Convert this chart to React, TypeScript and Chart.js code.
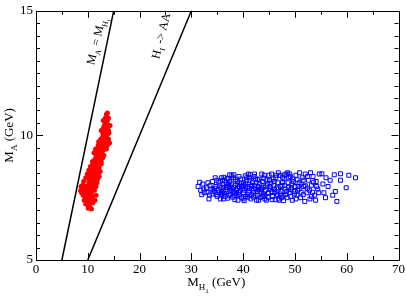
import React, { useEffect, useRef } from "react";
import { Chart, registerables } from "chart.js";
Chart.register(...registerables);

const SERIF = '"Liberation Serif", "Times New Roman", serif';

const xTicks = [0, 10, 20, 30, 40, 50, 60, 70];
const yTicks = [5, 10, 15];
const xMinorStep = 5;
const yMinorStep = 0.5;

// line M_A = M_H1
const lineEqual = [[5, 5], [15, 15]];
// line H1 -> AA : M_H1 = 2 M_A
const lineDecay = [[10, 5], [30, 15]];

// label anchors (data coords)
const labelEqualAt = [11.5, 13.8];
const labelDecayAt = [24, 14.0];

const redPoints = [
  [13.6, 10.85], [13.4, 10.7], [13.8, 10.6], [13.3, 10.55], [13.7, 10.45], [13.5, 10.5], [13.9, 10.35], [13.2, 10.4],
  [13.0, 10.3], [13.6, 10.25], [14.0, 10.2], [13.3, 10.15], [12.9, 10.1], [13.8, 10.05], [13.5, 10.0], [14.1, 10.1],
  [13.2, 9.95], [12.8, 9.9], [13.7, 9.9], [14.0, 9.85],
  [12.6, 9.8], [13.1, 9.75], [13.5, 9.7], [12.4, 9.65], [12.9, 9.6], [13.3, 9.55], [13.8, 9.6], [12.2, 9.5],
  [12.7, 9.45], [13.6, 9.45], [13.0, 9.4],
  [11.8, 9.35], [12.3, 9.3], [12.7, 9.25], [11.6, 9.2], [12.0, 9.15], [12.5, 9.1], [12.9, 9.1], [11.4, 9.05],
  [11.9, 9.0], [12.3, 8.95], [11.7, 8.9], [12.6, 8.85],
  [11.0, 8.85], [11.3, 8.8], [11.8, 8.75], [12.2, 8.7], [10.9, 8.7], [11.5, 8.65], [11.2, 8.6], [11.9, 8.6],
  [10.8, 8.55], [11.4, 8.5], [12.4, 8.55], [11.7, 8.5], [10.6, 8.45], [11.1, 8.45],
  [10.5, 8.4], [10.9, 8.38], [11.3, 8.35], [11.7, 8.3], [10.3, 8.3], [10.7, 8.25], [11.1, 8.22], [11.5, 8.2],
  [10.2, 8.15], [10.6, 8.12], [11.0, 8.1], [11.4, 8.08], [10.4, 8.05], [10.8, 8.0], [11.2, 8.02], [11.9, 8.25],
  [10.1, 8.0], [12.0, 8.45],
  [9.4, 7.95], [9.8, 7.95], [10.2, 7.9], [10.6, 7.88], [11.0, 7.92], [9.6, 7.85], [10.0, 7.8], [10.4, 7.78],
  [10.8, 7.75], [11.3, 7.8], [9.2, 7.75], [9.5, 7.7], [9.9, 7.68], [10.3, 7.65], [10.7, 7.6], [9.7, 7.6],
  [10.1, 7.55], [10.5, 7.5], [9.4, 7.55], [10.9, 7.55],
  [9.8, 7.45], [10.2, 7.42], [10.6, 7.38], [9.9, 7.32], [10.3, 7.28], [10.0, 7.2], [10.4, 7.15], [10.1, 7.08],
  [8.6, 7.78], [8.8, 7.7], [8.9, 7.85],
  [9.0, 8.0], [9.2, 8.15], [9.6, 8.3], [9.9, 8.45], [11.6, 7.95], [11.8, 8.1], [12.2, 8.35], [10.2, 8.6],
  [10.5, 8.75], [12.6, 8.95], [11.2, 9.3], [11.5, 9.45], [12.0, 9.6], [13.1, 9.2], [12.5, 9.85], [12.6, 10.2],
  [14.2, 9.7], [14.3, 10.4], [13.0, 10.6], [14.0, 10.7], [11.6, 7.6], [11.4, 7.4], [9.3, 7.4], [9.6, 7.25],
  [10.7, 7.05], [9.1, 7.6], [8.7, 7.95], [11.0, 7.3], [10.9, 8.95], [11.5, 8.95], [12.1, 9.75], [13.8, 10.9],
  [12.9, 9.95],
];

const bluePoints = [
  [31.3, 7.95], [31.8, 7.8], [32.2, 8.05], [32.5, 7.7], [32.9, 7.9], [33.2, 8.1], [33.5, 7.6], [33.8, 7.85],
  [34.1, 8.15], [34.4, 7.75], [34.7, 7.95], [35.0, 7.55], [32.0, 7.62], [33.0, 7.72], [34.0, 7.65], [34.9, 8.2],
  [35.2, 7.8], [35.5, 8.0], [35.8, 7.7], [36.0, 8.2], [36.2, 7.9], [36.5, 7.55], [36.7, 8.1], [36.9, 7.75],
  [37.1, 8.25], [37.3, 7.95], [37.5, 7.65], [37.7, 8.05], [37.9, 7.85], [38.1, 8.3], [38.3, 7.6], [38.5, 8.0],
  [38.7, 7.8], [38.9, 8.15], [39.1, 7.7], [39.3, 7.95], [39.5, 8.25], [39.7, 7.5], [39.9, 7.88], [35.6, 7.45],
  [36.3, 8.32], [37.0, 7.48], [37.8, 8.38], [38.4, 7.42], [39.2, 8.35], [35.9, 7.62], [36.8, 7.92], [37.6, 7.78],
  [38.6, 7.68], [39.6, 8.08], [36.1, 8.05], [38.0, 7.52],
  [40.1, 8.1], [40.3, 7.8], [40.5, 7.55], [40.7, 8.3], [40.9, 7.95], [41.1, 7.7], [41.3, 8.2], [41.5, 7.45],
  [41.7, 8.0], [41.9, 7.85], [42.1, 8.35], [42.3, 7.6], [42.5, 8.1], [42.7, 7.75], [42.9, 7.95], [43.1, 8.25],
  [43.3, 7.5], [43.5, 7.9], [43.7, 8.15], [43.9, 7.65], [44.1, 8.4], [44.3, 7.8], [44.5, 7.4], [44.7, 8.05],
  [44.9, 7.7], [40.2, 7.38], [41.4, 8.42], [42.6, 7.4], [43.6, 8.45], [44.2, 7.58], [40.8, 7.62], [42.0, 7.52],
  [43.0, 7.82], [44.6, 8.22], [41.8, 8.12], [40.4, 8.38],
  [45.1, 8.2], [45.3, 7.85], [45.5, 8.45], [45.7, 7.55], [45.9, 8.0], [46.1, 7.7], [46.3, 8.3], [46.5, 7.9],
  [46.7, 8.1], [46.9, 7.45], [47.1, 8.4], [47.3, 7.75], [47.5, 8.0], [47.7, 7.6], [47.9, 8.25], [48.1, 7.85],
  [48.3, 8.45], [48.5, 7.5], [48.7, 8.1], [48.9, 7.7], [49.1, 8.35], [49.3, 7.9], [49.5, 7.4], [49.7, 8.15],
  [49.9, 7.65], [45.6, 7.42], [46.8, 8.5], [47.8, 7.38], [48.6, 8.5], [46.4, 7.58],
  [50.2, 8.4], [50.5, 7.8], [50.8, 8.1], [51.1, 7.5], [51.4, 8.3], [51.7, 7.95], [52.0, 8.45], [52.3, 7.7],
  [52.6, 8.2], [52.9, 7.45], [53.2, 8.0], [53.5, 8.35], [53.8, 7.6], [54.1, 8.15], [54.4, 7.85], [54.7, 8.45],
  [50.9, 8.5], [51.9, 7.35], [53.0, 8.5], [54.0, 7.4],
  [55.2, 8.46], [55.6, 7.7], [56.0, 8.3], [56.4, 7.95], [56.8, 8.2], [57.3, 7.6], [57.6, 8.42], [58.1, 7.35],
  [58.8, 8.2], [58.8, 8.46], [59.9, 7.9], [60.4, 8.4], [61.7, 8.3], [55.9, 7.5], [57.8, 7.75], [55.4, 8.05],
  [34.5, 7.88], [35.4, 7.72], [36.6, 7.82], [37.4, 8.15], [38.2, 7.92], [38.8, 7.58], [39.4, 7.78], [40.0, 7.98],
  [40.6, 8.18], [41.2, 7.88], [41.6, 7.62], [42.2, 7.98], [42.8, 8.22], [43.4, 7.72], [44.0, 7.92], [44.8, 7.52],
  [45.4, 8.08], [46.0, 7.82], [46.6, 7.62], [47.2, 7.95], [47.6, 8.32], [48.2, 7.62], [48.8, 7.92], [49.4, 8.05],
  [50.0, 7.75], [50.6, 7.95], [51.6, 7.62], [52.4, 7.88], [53.4, 7.72], [36.4, 7.68], [37.2, 8.02], [39.0, 8.05],
  [40.9, 7.52], [42.4, 7.85], [43.8, 7.55], [45.8, 8.25], [47.4, 7.5], [49.2, 7.55], [50.4, 8.22], [51.2, 8.05],
  [33.6, 7.98], [34.2, 7.82], [34.8, 7.62], [35.3, 8.12], [35.7, 7.9], [36.0, 7.68], [36.4, 8.18], [36.9, 8.28],
  [37.3, 7.58], [37.7, 7.9], [38.1, 7.72], [38.5, 8.22], [38.9, 7.88], [39.3, 7.62], [39.7, 7.95], [40.1, 7.7],
  [40.5, 8.05], [40.8, 7.88], [41.2, 8.3], [41.6, 7.95], [42.0, 7.72], [42.4, 8.25], [42.8, 7.6], [43.2, 8.05],
  [43.6, 7.82], [44.0, 8.28], [44.4, 7.98], [44.8, 7.68], [45.2, 7.95], [45.6, 7.75], [46.0, 8.15], [46.4, 8.4],
  [46.8, 7.85], [47.2, 7.65], [47.6, 8.12], [48.0, 7.98], [48.4, 7.75], [48.8, 8.3], [49.2, 7.82], [49.6, 8.25],
  [50.0, 7.95], [50.4, 7.6], [50.8, 7.85], [51.2, 7.72], [51.6, 8.2], [52.0, 7.98], [52.4, 8.35], [52.8, 7.8],
  [53.2, 7.55], [53.6, 8.12], [54.2, 7.95], [54.6, 7.7], [36.2, 7.45], [38.2, 8.42], [40.0, 7.45], [42.2, 8.45],
  [44.2, 7.45], [46.2, 7.42], [48.0, 8.42], [50.2, 7.45], [39.0, 7.4], [41.0, 8.45], [43.0, 7.4], [45.0, 8.4],
  [47.0, 7.4], [49.0, 8.45], [37.4, 8.42], [35.8, 8.3], [34.6, 8.3], [33.4, 7.45], [32.4, 7.85], [31.6, 8.12],
];

type Seg = { t: string; size: number; dy: number };

function drawRich(ctx: CanvasRenderingContext2D, segs: Seg[], x: number, y: number, angle: number) {
  ctx.save();
  ctx.translate(x, y);
  ctx.rotate(angle);
  ctx.fillStyle = "#000";
  ctx.textBaseline = "alphabetic";
  ctx.textAlign = "left";
  const widths = segs.map((s) => {
    ctx.font = `${s.size}px ${SERIF}`;
    return ctx.measureText(s.t).width;
  });
  const total = widths.reduce((a, b) => a + b, 0);
  let cx = -total / 2;
  segs.forEach((s, i) => {
    ctx.font = `${s.size}px ${SERIF}`;
    ctx.fillText(s.t, cx, 4.5 + s.dy);
    cx += widths[i];
  });
  ctx.restore();
}

const framePlugin = {
  id: "frameTicks",
  afterDraw(chart: any) {
    const ctx: CanvasRenderingContext2D = chart.ctx;
    const { left, right, top, bottom } = chart.chartArea;
    const xs = chart.scales.x;
    const ys = chart.scales.y;
    ctx.save();
    ctx.strokeStyle = "#000";
    ctx.lineWidth = 1;
    ctx.beginPath();
    ctx.rect(Math.round(left) + 0.5, Math.round(top) + 0.5, Math.round(right - left), Math.round(bottom - top));
    ctx.stroke();
    ctx.beginPath();
    for (let v = xs.min; v <= xs.max + 1e-9; v += xMinorStep) {
      const major = xTicks.includes(Math.round(v * 100) / 100);
      const len = major ? 7 : 4;
      const px = Math.round(xs.getPixelForValue(v)) + 0.5;
      ctx.moveTo(px, bottom);
      ctx.lineTo(px, bottom - len);
      ctx.moveTo(px, top);
      ctx.lineTo(px, top + len);
    }
    for (let v = ys.min; v <= ys.max + 1e-9; v += yMinorStep) {
      const major = yTicks.includes(Math.round(v * 100) / 100);
      const len = major ? 7 : 4;
      const py = Math.round(ys.getPixelForValue(v)) + 0.5;
      ctx.moveTo(left, py);
      ctx.lineTo(left + len, py);
      ctx.moveTo(right, py);
      ctx.lineTo(right - len, py);
    }
    ctx.stroke();
    ctx.restore();

    // axis titles
    const cxTitle = (left + right) / 2 - 1;
    drawRich(ctx, [
      { t: "M", size: 13, dy: 0 },
      { t: "H", size: 9, dy: 4 },
      { t: "1", size: 7, dy: 7 },
      { t: " (GeV)", size: 13, dy: 0 },
    ], cxTitle, 281, 0);
    drawRich(ctx, [
      { t: "M", size: 13, dy: 0 },
      { t: "A", size: 9, dy: 4 },
      { t: " (GeV)", size: 13, dy: 0 },
    ], 8, (top + bottom) / 2, -Math.PI / 2);

    // line labels
    const ang = (-76 * Math.PI) / 180;
    drawRich(ctx, [
      { t: "M", size: 12, dy: 0 },
      { t: "A", size: 8, dy: 3.5 },
      { t: " = M", size: 12, dy: 0 },
      { t: "H", size: 8, dy: 3.5 },
      { t: "1", size: 6, dy: 6 },
    ], xs.getPixelForValue(labelEqualAt[0]), ys.getPixelForValue(labelEqualAt[1]), ang);
    drawRich(ctx, [
      { t: "H", size: 12, dy: 0 },
      { t: "1", size: 8, dy: 3.5 },
      { t: " -> AA", size: 12, dy: 0 },
    ], xs.getPixelForValue(labelDecayAt[0]), ys.getPixelForValue(labelDecayAt[1]), ang);
  },
};

export default function App() {
  const ref = useRef<HTMLCanvasElement>(null);
  useEffect(() => {
    document.body.style.margin = "0";
    const toXY = (arr: number[][]) => arr.map(([x, y]) => ({ x, y }));
    const chart = new Chart(ref.current!, {
      type: "scatter",
      data: {
        datasets: [
          {
            label: "MA = MH1",
            data: toXY(lineEqual),
            showLine: true,
            borderColor: "#000",
            borderWidth: 1.5,
            pointRadius: 0,
          },
          {
            label: "H1 -> AA",
            data: toXY(lineDecay),
            showLine: true,
            borderColor: "#000",
            borderWidth: 1.5,
            pointRadius: 0,
          },
          {
            label: "red",
            data: toXY(redPoints),
            pointStyle: "circle",
            pointRadius: 2.5,
            backgroundColor: "#ff0000",
            borderColor: "#ff0000",
            borderWidth: 0,
          },
          {
            label: "blue",
            data: toXY(bluePoints),
            pointStyle: "rect",
            pointRadius: 2.8,
            backgroundColor: "rgba(0,0,0,0)",
            borderColor: "#0000ff",
            borderWidth: 1,
          },
        ],
      } as any,
      options: {
        animation: false,
        responsive: false,
        devicePixelRatio: 1,
        events: [],
        layout: { padding: { top: 5, right: 7, left: 0, bottom: 0 } },
        plugins: { legend: { display: false }, tooltip: { enabled: false } },
        scales: {
          x: {
            type: "linear",
            min: 0,
            max: 70,
            grid: { display: false, drawTicks: false },
            border: { display: false },
            ticks: {
              stepSize: 10,
              color: "#000",
              padding: 2,
              maxRotation: 0,
              font: { family: SERIF, size: 13 },
            },
            afterFit: (s: any) => {
              s.height = 36;
            },
          },
          y: {
            type: "linear",
            min: 5,
            max: 15,
            grid: { display: false, drawTicks: false },
            border: { display: false },
            ticks: {
              stepSize: 5,
              color: "#000",
              padding: 3,
              font: { family: SERIF, size: 13 },
            },
            afterFit: (s: any) => {
              s.width = 36;
            },
          },
        },
      } as any,
      plugins: [framePlugin],
    });
    return () => chart.destroy();
  }, []);
  return (
    <div style={{ width: 407, height: 296 }}>
      <canvas ref={ref} width={407} height={296} />
    </div>
  );
}
